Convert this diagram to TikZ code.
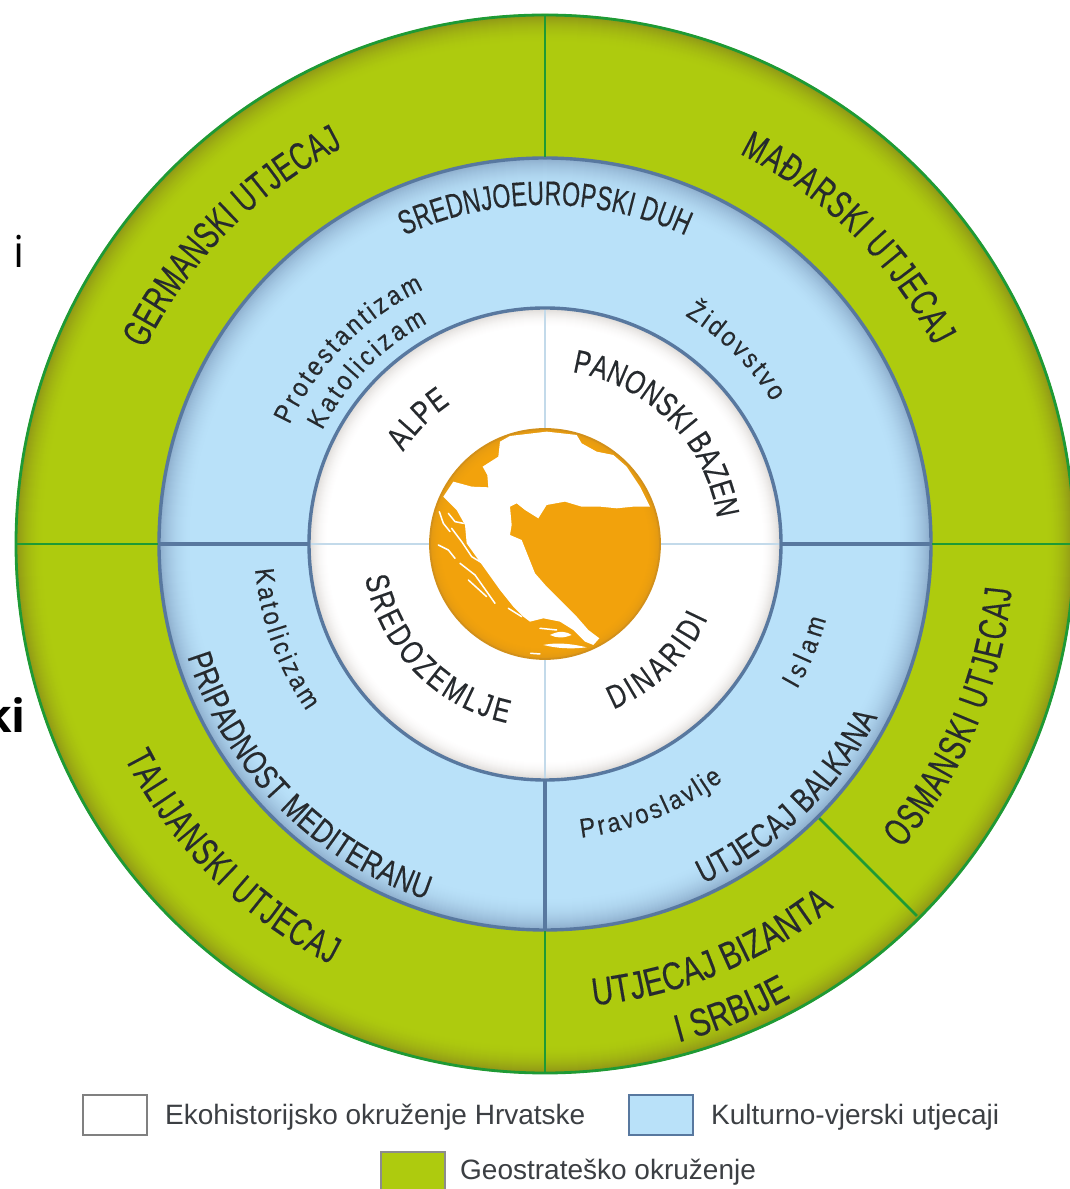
\documentclass[tikz,border=0pt]{standalone}
\usepackage{fontspec}
\setmainfont{Liberation Sans}
\newfontfamily\condf[FakeStretch=0.76,FakeBold=0.25]{Liberation Sans}
\newfontfamily\tightf[FakeStretch=0.68,FakeBold=0.25]{Liberation Sans}
\newfontfamily\smallf[FakeStretch=0.88,FakeBold=0.15]{Liberation Sans}
\newfontfamily\cutf{Open Sans}
\usetikzlibrary{decorations.text}
\definecolor{ringgreen}{HTML}{AECB0E}
\definecolor{rimgreen}{HTML}{1E9A35}
\definecolor{olive}{HTML}{86861A}
\definecolor{paleblue}{HTML}{B9E1F9}
\definecolor{dustblue}{HTML}{7F9DBE}
\definecolor{slateline}{HTML}{58789F}
\definecolor{crossblue}{HTML}{C3DAEA}
\definecolor{globeorange}{HTML}{F2A20C}
\definecolor{globeedge}{HTML}{D2901A}
\definecolor{discedge}{HTML}{B8AFA8}
\definecolor{inktext}{HTML}{262A2E}
\tikzset{
 ringline/.style={draw=rimgreen,line width=2.8pt},
 blueline/.style={draw=slateline,line width=3.4pt},
 crossline/.style={draw=crossblue,line width=2.6pt},
 legendbox/.style={minimum width=64pt,minimum height=40pt,inner sep=0pt,line width=2pt},
 legendtext/.style={anchor=west,inner sep=0pt,text=inktext!90!white,font=\fontsize{28}{30}\selectfont},
 isle/.style={draw=white,line width=1.5pt,line cap=round,line join=round},
}
% outer radius, width, base colour, edge colour, strongest mix
\newcommand{\edgeglow}[5]{%
 \foreach \k in {0,...,#2}{%
  \pgfmathsetmacro\mixpct{#5*(1-\k/#2)*(1-\k/#2)}%
  \draw[line width=1.5pt,draw=#4!\mixpct!#3] (c) circle[radius=#1-\k];}}
% radius, start angle, end angle, font size, text
\newcommand{\arctext}[5]{%
 \path[decorate,decoration={text along path,text align=fit to path,
   text={|\condf\fontsize{#4}{#4}\selectfont\color{inktext}|#5}}]
   ({545+#1*cos(#2)},{645+#1*sin(#2)}) arc[start angle=#2,end angle=#3,radius=#1];}
\newcommand{\tighttext}[5]{%
 \path[decorate,decoration={text along path,text align=fit to path,
   text={|\tightf\fontsize{#4}{#4}\selectfont\color{inktext}|#5}}]
   ({545+#1*cos(#2)},{645+#1*sin(#2)}) arc[start angle=#2,end angle=#3,radius=#1];}
\newcommand{\faithtext}[4]{%
 \path[decorate,decoration={text along path,text align=fit to path,
   text={|\smallf\fontsize{27}{27}\selectfont\color{inktext}|#4}}]
   ({545+#1*cos(#2)},{645+#1*sin(#2)}) arc[start angle=#2,end angle=#3,radius=#1];}
\begin{document}
\begin{tikzpicture}[x=1pt,y=1pt]
\useasboundingbox (0,0) rectangle (1070,1189);
\clip (0,0) rectangle (1070,1189);
\fill[white] (0,0) rectangle (1070,1189);
\coordinate (c) at (545,645);
% rings
\fill[ringgreen] (c) circle[radius=530];
\edgeglow{528}{28}{ringgreen}{olive}{75}
\draw[ringline] (c) circle[radius=529];
\fill[paleblue] (c) circle[radius=386];
\edgeglow{384}{32}{paleblue}{dustblue}{70}
\draw[blueline] (c) circle[radius=386];
\fill[white] (c) circle[radius=236];
\edgeglow{234}{18}{white}{discedge}{42}
\draw[blueline] (c) circle[radius=236];
% green dividers
\draw[ringline] (545,1032) -- (545,1175);
\draw[ringline] (545,258) -- (545,115);
\draw[ringline] (158,645) -- (15,645);
\draw[ringline] (932,645) -- (1075,645);
\draw[ringline] (c) ++(-45:388) -- ++(-45:138);
% blue dividers
\draw[blueline] (309,645) -- (159,645);
\draw[blueline] (781,645) -- (931,645);
\draw[blueline] (545,409) -- (545,259);
% white cross
\draw[crossline] (545,745) -- (545,879);
\draw[crossline] (545,545) -- (545,411);
\draw[crossline] (445,645) -- (311,645);
\draw[crossline] (645,645) -- (779,645);
% globe
\fill[globeorange] (c) circle[radius=115];
\edgeglow{114}{12}{globeorange}{globeedge}{50}
\begin{scope}[shift={(400,789)},x=0.3333pt,y=-0.3333pt]
\fill[white,line join=round] (130,290)--(160,245)--(215,260)--(265,262)--(262,225)--(248,200)--(295,170)--(300,125)--(330,108)--(440,95)--(530,105)--(545,130)--(590,155)--(640,165)--(680,200)--(720,260)--(750,320)--(700,320)--(650,325)--(600,320)--(545,320)--(495,305)--(440,315)--(415,355)--(375,330)--(350,310)--(330,320)--(335,375)--(330,405)--(365,420)--(385,470)--(405,520)--(440,560)--(490,610)--(530,650)--(565,690)--(598,715)--(580,735)--(555,725)--(520,690)--(480,665)--(430,655)--(390,665)--(370,650)--(340,620)--(300,570)--(250,500)--(200,430)--(195,375)--(170,330)--cycle;
\draw[isle] (118,335)--(130,370)--(150,395);
\draw[isle] (145,340)--(165,365)--(190,370);
\draw[isle] (155,385)--(185,425)--(215,470)--(305,525);
\draw[isle] (115,435)--(145,450)--(165,475);
\draw[isle] (180,490)--(225,525)--(285,610);
\draw[isle] (205,540)--(260,590);
\draw[isle] (325,625)--(365,650);
\fill[white] (450,705) .. controls (480,690) and (500,695) .. (515,705) .. controls (490,715) and (470,715) .. cycle;
\fill[white] (430,735) .. controls (480,725) and (530,735) .. (560,742) .. controls (510,748) and (470,745) .. cycle;
\draw[isle] (420,685)--(470,690);
\draw[isle] (392,760)--(420,762);
\end{scope}
\draw[globeedge,line width=1.8pt] (c) circle[radius=115];
% arc labels
\tighttext{445}{154}{117}{39}{GERMANSKI UTJECAJ}
\tighttext{436}{63.5}{27}{39}{MAĐARSKI UTJECAJ}
\tighttext{339}{114.5}{65.5}{34}{SREDNJOEUROPSKI DUH}
\arctext{169}{147}{124}{33}{ALPE}
\arctext{174}{81}{9.5}{33}{PANONSKI BAZEN}
\arctext{183}{190.5}{258}{33}{SREDOZEMLJE}
\arctext{179}{-67.5}{-24.5}{33}{DINARIDI}
\arctext{375}{197.5}{251.5}{34}{PRIPADNOST MEDITERANU}
\arctext{375}{-65}{-27.5}{34}{UTJECAJ BALKANA}
\tighttext{472}{207}{243}{39}{TALIJANSKI UTJECAJ}
\tighttext{469}{-40.5}{-5.5}{39}{OSMANSKI UTJECAJ}
\arctext{464}{-84}{-52.5}{39}{UTJECAJ BIZANTA}
\arctext{516}{-75}{-61.5}{39}{I SRBIJE}
\faithtext{282}{155}{115.5}{Protestantizam}
\faithtext{250}{153}{118}{Katolicizam}
\faithtext{268}{58.5}{32}{Židovstvo}
\faithtext{291}{185}{215}{Katolicizam}
\faithtext{291}{-30}{-15}{Islam}
\faithtext{296}{-83}{-53}{Pravoslavlje}
% legend
\node[legendbox,draw=black!50,fill=white] (boxa) at (114.5,74) {};
\node[legendtext] (texta) at (165,72) {Ekohistorijsko okruženje Hrvatske};
\node[legendbox,draw=slateline,fill=paleblue] (boxb) at (661,74) {};
\node[legendtext] (textb) at (711,72) {Kulturno-vjerski utjecaji};
\node[legendbox,draw=black!45,fill=ringgreen,minimum height=44pt] (boxc) at (412.5,15) {};
\node[legendtext] (textc) at (460,17) {Geostrateško okruženje};
% stray fragments at the left edge
\node[anchor=base west,inner sep=0pt,font=\cutf\fontsize{44}{44}\selectfont] (frag1) at (13,921) {i};
\node[anchor=base east,inner sep=0pt,font=\cutf\bfseries\fontsize{46}{46}\selectfont] (frag2) at (26,456) {ki};
\end{tikzpicture}
\end{document}
